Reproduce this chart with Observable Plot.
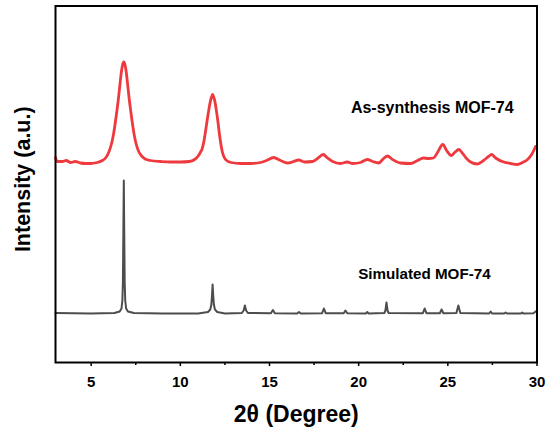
<!DOCTYPE html>
<html><head><meta charset="utf-8">
<script src="https://cdn.jsdelivr.net/npm/d3@7"></script>
<script src="https://cdn.jsdelivr.net/npm/@observablehq/plot@0.6"></script>
<style>body{margin:0;background:#fff}</style>
</head><body><div id="chart"></div>
<script>
// As-synthesis MOF-74 (experimental) pattern
const synTheta = [3.0,3.1,3.4,3.6,3.85,4.1,4.4,4.7,4.95,5.33,5.63,5.83,5.98,6.13,6.23,6.33,6.43,6.53,6.62,6.69,6.76,6.83,6.90,6.97,7.04,7.13,7.23,7.33,7.43,7.53,7.68,7.83,8.03,8.33,8.9,9.45,10.01,10.5,10.8,10.98,11.12,11.23,11.33,11.42,11.51,11.60,11.67,11.74,11.81,11.88,11.95,12.02,12.10,12.18,12.26,12.35,12.45,12.6,12.85,13.38,13.94,14.50,14.83,15.23,15.62,16.01,16.35,16.63,16.97,17.41,17.69,18.01,18.25,18.54,18.98,19.36,19.66,20.11,20.48,20.78,21.12,21.40,21.62,21.90,22.35,22.91,23.30,23.64,23.92,24.20,24.42,24.72,24.93,25.19,25.38,25.62,25.83,26.05,26.28,26.65,27.00,27.28,27.45,27.68,28.13,28.52,28.89,29.19,29.47,29.70,29.92];
const synIntensity = [205,201,201,202,200,201,199.5,199,199,200,202,205,210,218,226,237,250,264,279,290,297.5,300.5,297.5,290,279,264,250,237,226,218,210.5,206.5,203.5,202,201,200.5,200.5,201,203,206,210,214,222,232,243,253,260,265,268,265,260,252,242,230,220,211,205.5,202,200,199,199,200,202,205,202,199.5,201,202.5,200.5,201,204,208,204.5,201,199,200.5,199,200,203,201,199.5,204,206.5,203,199.5,199,202,204.5,204,204.5,210,218,212,207,210,213,209,204,200.5,198.5,202,206,208,204.5,200.5,199,198,200,203,208,216];

// Simulated MOF-74 pattern
const simTheta = [3.0,5.0,6.3,6.6,6.70,6.75,6.78,6.805,6.83,6.855,6.88,6.91,6.96,7.06,7.4,9.0,11.0,11.55,11.68,11.74,11.78,11.81,11.84,11.88,11.94,12.07,12.5,13.45,13.55,13.62,13.69,13.79,15.08,15.19,15.30,16.55,16.65,16.75,17.95,18.05,18.15,19.16,19.26,19.36,20.40,20.48,20.56,21.44,21.50,21.56,21.62,21.68,23.60,23.70,23.80,24.55,24.65,24.75,25.48,25.59,25.70,27.32,27.40,27.48,28.16,28.24,28.32,29.10,29.17,29.24,29.8,30.0];
const simIntensity = [49.5,49,49.5,51,54,62,80,130,182,130,80,62,54,51,49.5,49,49,50.5,53,58,68,78,68,58,53,50.5,49,49.5,52,57,52,49.5,49.2,52.5,49.2,49,50.5,49,49.3,54,49.3,49.2,52,49.2,49,50.5,49,49.5,52,60,52,49.5,49.3,54,49.3,49.3,53,49.3,49.4,57,49.4,49,51,49,49,50,49,49,50,49,49.3,52];

const majorTicks = [5,10,15,20,25,30];
const minorTicks = [7.5,12.5,17.5,22.5,27.5];
const labels = ["As-synthesis MOF-74","Simulated MOF-74"];
const labelTheta = [28.69,27.40];
const labelIntensity = [250,84];
const xTitle = "2θ (Degree)";
const yTitle = "Intensity (a.u.)";

const syn = synTheta.map((t,i)=>({t, v: synIntensity[i]}));
const sim = simTheta.map((t,i)=>({t, v: simIntensity[i]}));
const lab = labels.map((s,i)=>({s, t: labelTheta[i], v: labelIntensity[i]}));

const font = "'Liberation Sans', Arial, sans-serif";
const chart = Plot.plot({
  width: 549, height: 435,
  marginLeft: 55, marginRight: 12.5, marginTop: 5.5, marginBottom: 73,
  style: {fontFamily: font, background: "white", color: "black"},
  x: {domain: [3, 30]},
  y: {domain: [0, 356.5]},
  marks: [
    Plot.line(sim, {x: "t", y: "v", stroke: "#4d4d4d", strokeWidth: 2, curve: "linear"}),
    Plot.line(syn, {x: "t", y: "v", stroke: "#ee3a3e", strokeWidth: 2.8, curve: "monotone-x"}),
    Plot.text(lab.slice(0,1), {x: "t", y: "v", text: "s", textAnchor: "end", lineAnchor: "bottom", fontSize: 16, fontWeight: "bold", fill: "black"}),
    Plot.text(lab.slice(1), {x: "t", y: "v", text: "s", textAnchor: "end", lineAnchor: "bottom", fontSize: 15.2, fontWeight: "bold", fill: "black"}),
    Plot.axisX({ticks: majorTicks, tickSize: 4, tickPadding: 10, fontSize: 15, fontWeight: "bold", label: null, strokeWidth: 1.5}),
    Plot.axisX({ticks: minorTicks, tickSize: 3, text: null, label: null, strokeWidth: 1.5}),
    Plot.axisY({ticks: [], label: null}),
    Plot.frame({stroke: "black", strokeWidth: 2}),
    Plot.text([xTitle], {frameAnchor: "bottom", dy: 52, lineAnchor: "middle", fontSize: 23, fontWeight: "bold", fill: "black"}),
    Plot.text([yTitle], {frameAnchor: "left", textAnchor: "middle", dx: -32, dy: -5, rotate: -90, lineAnchor: "middle", fontSize: 21.5, fontWeight: "bold", fill: "black"})
  ]
});
document.getElementById("chart").appendChild(chart);
</script>
</body></html>
